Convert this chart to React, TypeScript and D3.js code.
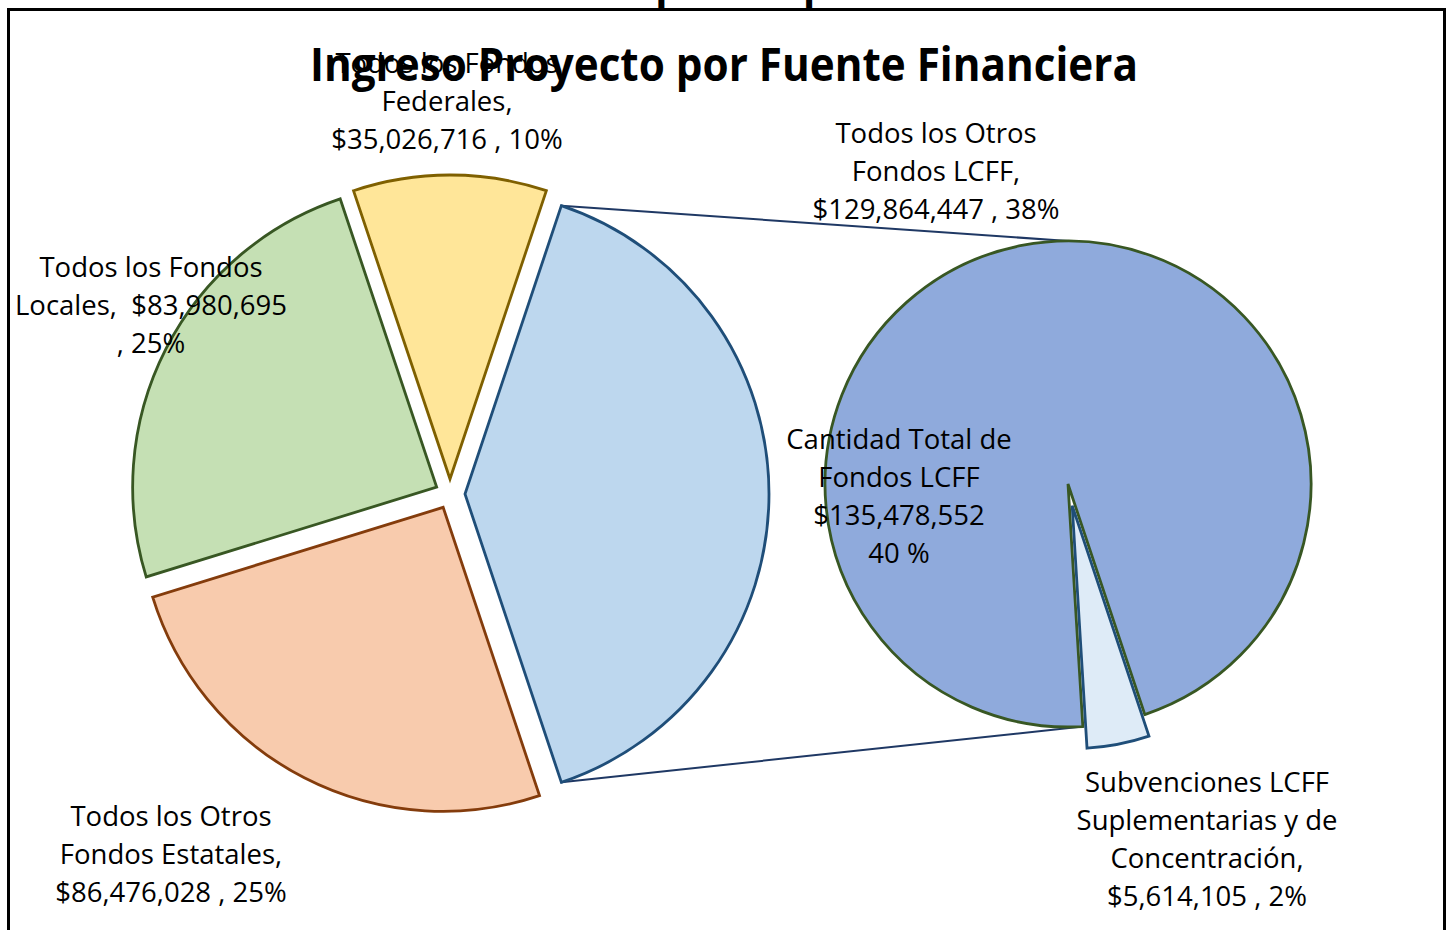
import React from "react";
import * as d3 from "d3";

// ---------- DATA ----------
const chartTitle = "Ingreso Proyecto por Fuente Financiera";
const pageTitle = "Resumen Presupuesto para el 2023-24";

const mainCategories = [
  "Cantidad Total de Fondos LCFF",
  "Todos los Otros Fondos Estatales",
  "Todos los Fondos Locales",
  "Todos los Fondos Federales",
];
const mainValues = [135478552, 86476028, 83980695, 35026716];
const mainPercents = ["40 %", "25%", "25%", "10%"];

const subCategories = [
  "Subvenciones LCFF Suplementarias y de Concentración",
  "Todos los Otros Fondos LCFF",
];
const subValues = [5614105, 129864447];
const subPercents = ["2%", "38%"];

// ---------- LAYOUT / STYLE ----------
const W = 1448;
const H = 930;
const FONT = "'Open Sans', 'Noto Sans', sans-serif";
const fmt = d3.format("$,");

const MAIN = { cx: 450, cy: 494, r: 304, explode: 15 };
const SUB = { cx: 1068, cy: 484, r: 243, explode: 22, smallEndDeg: 176.5 };

const mainStyle = [
  { fill: "#BDD7EE", stroke: "#1F4E79" },
  { fill: "#F8CBAD", stroke: "#843C0C" },
  { fill: "#C5E0B4", stroke: "#385723" },
  { fill: "#FFE699", stroke: "#7F6000" },
];
const subStyle = [
  { fill: "#DEEBF7", stroke: "#1F4E79" },
  { fill: "#8FAADC", stroke: "#385723" },
];

// label anchors: center x, first baseline y
const mainLabelPos = [
  { x: 899, y: 449 },
  { x: 171, y: 826 },
  { x: 151, y: 277 },
  { x: 447, y: 73 },
];
const subLabelPos = [
  { x: 1207, y: 792 },
  { x: 936, y: 143 },
];

const mainLines = (i: number) => {
  const v = fmt(mainValues[i]);
  const p = mainPercents[i];
  switch (i) {
    case 0:
      return ["Cantidad Total de", "Fondos LCFF", v, p];
    case 1:
      return ["Todos los Otros", "Fondos Estatales,", `${v} , ${p}`];
    case 2:
      return ["Todos los Fondos", `Locales,  ${v}`, `, ${p}`];
    default:
      return ["Todos los Fondos", "Federales,", `${v} , ${p}`];
  }
};
const subLines = (i: number) => {
  const v = fmt(subValues[i]);
  const p = subPercents[i];
  if (i === 0) return ["Subvenciones LCFF", "Suplementarias y de", "Concentración,", `${v} , ${p}`];
  return ["Todos los Otros", "Fondos LCFF,", `${v} , ${p}`];
};

const LINE_H = 38;
const LABEL_SIZE = 27.5;

function Label({ x, y, lines }: { x: number; y: number; lines: string[] }) {
  return (
    <text
      x={x}
      y={y}
      textAnchor="middle"
      fontFamily={FONT}
      fontSize={LABEL_SIZE}
      fill="#000"
      style={{ whiteSpace: "pre" }}
    >
      {lines.map((l, k) => (
        <tspan key={k} x={x} y={y + k * LINE_H}>
          {l}
        </tspan>
      ))}
    </text>
  );
}

export default function App() {
  const mainTotal = d3.sum(mainValues);
  const mainStart = Math.PI / 2 - (mainValues[0] / mainTotal) * Math.PI;
  const mainPie = d3
    .pie<number>()
    .sort(null)
    .value((d) => d)
    .startAngle(mainStart)
    .endAngle(mainStart + 2 * Math.PI);
  const mainArcs = mainPie(mainValues);
  const mainArc = d3.arc<d3.PieArcDatum<number>>().innerRadius(0).outerRadius(MAIN.r);

  const subTotal = d3.sum(subValues);
  const smallEnd = (SUB.smallEndDeg * Math.PI) / 180;
  const subStart = smallEnd - (subValues[0] / subTotal) * 2 * Math.PI;
  const subPie = d3
    .pie<number>()
    .sort(null)
    .value((d) => d)
    .startAngle(subStart)
    .endAngle(subStart + 2 * Math.PI);
  const subArcs = subPie(subValues);
  const subArc = d3.arc<d3.PieArcDatum<number>>().innerRadius(0).outerRadius(SUB.r);

  const offset = (a: d3.PieArcDatum<number>, e: number) => {
    const mid = (a.startAngle + a.endAngle) / 2;
    return [e * Math.sin(mid), -e * Math.cos(mid)];
  };

  // connector endpoints
  const lcff = mainArcs[0];
  const [lox, loy] = offset(lcff, MAIN.explode);
  const pt = (cx: number, cy: number, r: number, ang: number) => [cx + r * Math.sin(ang), cy - r * Math.cos(ang)];
  const mTop = pt(MAIN.cx + lox, MAIN.cy + loy, MAIN.r, lcff.startAngle);
  const mBot = pt(MAIN.cx + lox, MAIN.cy + loy, MAIN.r, lcff.endAngle);
  const sTop = pt(SUB.cx, SUB.cy, SUB.r, 0);
  const sBot = pt(SUB.cx, SUB.cy, SUB.r, smallEnd);

  return (
    <div style={{ position: "fixed", left: 0, top: 0, width: W, height: H, background: "#fff" }}>
      <svg width={W} height={H} viewBox={`0 0 ${W} ${H}`} style={{ display: "block" }}>
        <rect x={0} y={0} width={W} height={H} fill="#fff" />
        <text
          x={724}
          y={-1}
          textAnchor="middle"
          fontFamily={FONT}
          fontWeight="bold"
          fontSize={40}
          fill="#000"
        >
          {pageTitle}
        </text>
        <rect x={8.5} y={9.5} width={1436} height={1000} fill="none" stroke="#000" strokeWidth={3} />

        {/* connectors */}
        <line x1={mTop[0]} y1={mTop[1]} x2={sTop[0]} y2={sTop[1]} stroke="#1F3864" strokeWidth={2} />
        <line x1={mBot[0]} y1={mBot[1]} x2={sBot[0]} y2={sBot[1]} stroke="#1F3864" strokeWidth={2} />

        {/* main pie */}
        {mainArcs.map((a, i) => {
          const [ox, oy] = offset(a, MAIN.explode);
          return (
            <path
              key={mainCategories[i]}
              d={mainArc(a) || ""}
              transform={`translate(${MAIN.cx + ox},${MAIN.cy + oy})`}
              fill={mainStyle[i].fill}
              stroke={mainStyle[i].stroke}
              strokeWidth={2.8}
              strokeLinejoin="miter"
            />
          );
        })}

        {/* secondary pie: big slice first, then small exploded slice */}
        {[1, 0].map((i) => {
          const a = subArcs[i];
          const [ox, oy] = i === 0 ? offset(a, SUB.explode) : [0, 0];
          return (
            <path
              key={subCategories[i]}
              d={subArc(a) || ""}
              transform={`translate(${SUB.cx + ox},${SUB.cy + oy})`}
              fill={subStyle[i].fill}
              stroke={subStyle[i].stroke}
              strokeWidth={2.8}
              strokeLinejoin="miter"
            />
          );
        })}

        {/* labels */}
        {mainArcs.map((_, i) => (
          <Label key={"ml" + i} x={mainLabelPos[i].x} y={mainLabelPos[i].y} lines={mainLines(i)} />
        ))}
        {subArcs.map((_, i) => (
          <Label key={"sl" + i} x={subLabelPos[i].x} y={subLabelPos[i].y} lines={subLines(i)} />
        ))}

        {/* chart title */}
        <text
          x={724}
          y={81}
          textAnchor="middle"
          fontFamily={FONT}
          fontWeight="bold"
          fontSize={46}
          textLength={828}
          lengthAdjust="spacingAndGlyphs"
          fill="#000"
        >
          {chartTitle}
        </text>
      </svg>
    </div>
  );
}
